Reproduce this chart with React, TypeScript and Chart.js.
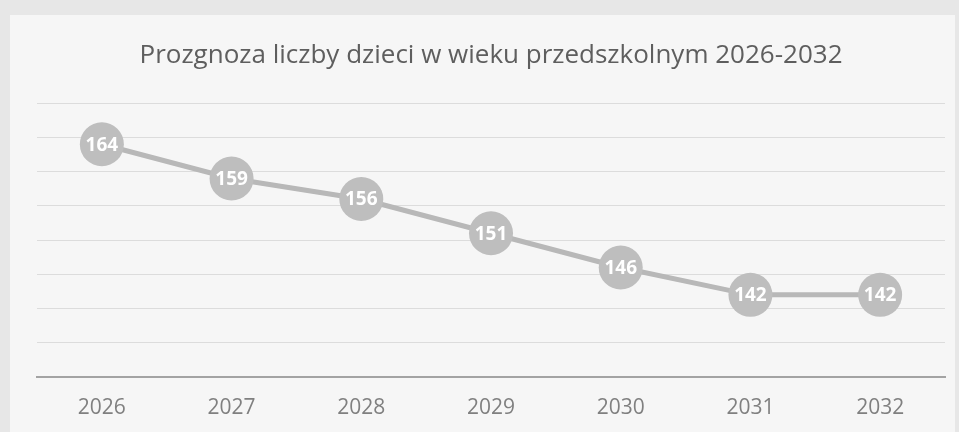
import React, { useEffect, useRef } from "react";
import { Chart, registerables } from "chart.js";

Chart.register(...registerables);

const TITLE = "Prozgnoza liczby dzieci w wieku przedszkolnym 2026-2032";
const years = ["2026", "2027", "2028", "2029", "2030", "2031", "2032"];
const children = [164, 159, 156, 151, 146, 142, 142];
const yMin = 130;
const yMax = 170;
const yStep = 5;

const labelPlugin = {
  id: "pointLabels",
  afterDatasetsDraw(chart: any) {
    const ctx = chart.ctx;
    const meta = chart.getDatasetMeta(0);
    const data = chart.data.datasets[0].data as number[];
    ctx.save();
    ctx.fillStyle = "#ffffff";
    ctx.font = "bold 19px 'Open Sans', 'DejaVu Sans', sans-serif";
    ctx.textAlign = "center";
    ctx.textBaseline = "middle";
    meta.data.forEach((pt: any, i: number) => {
      ctx.fillText(String(data[i]), pt.x, pt.y + 1);
    });
    ctx.restore();
  },
};

export default function App() {
  const ref = useRef<HTMLCanvasElement | null>(null);

  useEffect(() => {
    document.body.style.margin = "0";
    if (!ref.current) return;
    const chart = new Chart(ref.current, {
      type: "line",
      data: {
        labels: years,
        datasets: [
          {
            data: children,
            borderColor: "#b8b8b8",
            borderWidth: 5,
            pointRadius: 22,
            pointHoverRadius: 22,
            pointBackgroundColor: "#bebebe",
            pointBorderColor: "#bebebe",
            pointBorderWidth: 0,
            tension: 0,
            clip: false,
          },
        ],
      },
      options: {
        animation: false,
        responsive: false,
        events: [],
        layout: { autoPadding: false, padding: { left: 27, right: 10, top: 0, bottom: 0 } },
        plugins: {
          legend: { display: false },
          tooltip: { enabled: false },
          title: {
            display: true,
            text: TITLE,
            color: "#5e5e5e",
            font: { family: "'Open Sans', 'Liberation Sans', sans-serif", size: 26, weight: "normal", lineHeight: 1.2 },
            padding: { top: 25, bottom: 32 },
          },
        },
        scales: {
          x: {
            offset: true,
            grid: { display: false, drawTicks: false },
            border: { display: true, color: "#a3a3a3", width: 2 },
            ticks: {
              color: "#808080",
              padding: 18,
              font: { family: "'Open Sans', 'Liberation Sans', sans-serif", size: 21 },
            },
            afterFit(scale: any) {
              scale.height = 55;
              scale.paddingLeft = 0;
              scale.paddingRight = 0;
            },
          },
          y: {
            min: yMin,
            max: yMax,
            grid: { color: "#dcdcdc", lineWidth: 1, drawTicks: false },
            border: { display: false },
            ticks: { display: false, stepSize: yStep },
            afterFit(scale: any) {
              scale.width = 0;
              scale.paddingTop = 0;
              scale.paddingBottom = 0;
            },
          },
        },
      },
      plugins: [labelPlugin],
    });
    return () => chart.destroy();
  }, []);

  return (
    <div
      style={{
        position: "relative",
        width: 959,
        height: 432,
        background: "#e7e7e7",
        overflow: "hidden",
      }}
    >
      <canvas
        ref={ref}
        width={945}
        height={417}
        style={{ position: "absolute", left: 10, top: 15, background: "#f6f6f6" }}
      />
    </div>
  );
}
